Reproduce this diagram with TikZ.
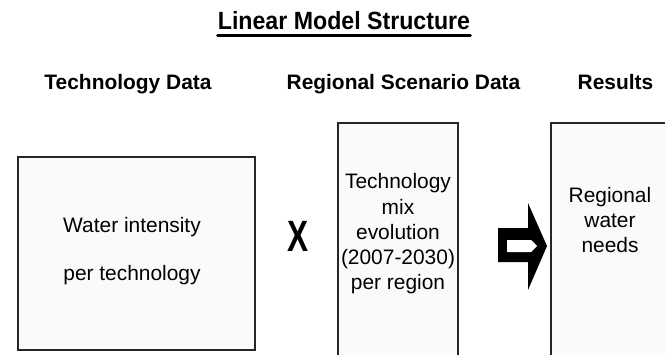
\documentclass[tikz,border=0pt]{standalone}
\usepackage{fontspec}
\usepackage{graphicx}
\setmainfont{Liberation Sans}
\begin{document}
\begin{tikzpicture}[x=1bp,y=-1bp,
  box/.style={draw=black!85,line width=1.8bp,fill=black!2},
  head/.style={anchor=base,inner sep=0pt,font=\fontsize{21}{24}\selectfont\bfseries},
  body/.style={anchor=base,inner sep=0pt,font=\fontsize{21}{25}\selectfont}]
\useasboundingbox (0,0) rectangle (665,354);
\clip (0,0) rectangle (665,354);
% title
\node[anchor=base,inner sep=0pt] (title) at (344,29) {\scalebox{0.93}[1]{\fontsize{25}{28}\selectfont\bfseries Linear Model Structure}};
\draw[line width=3bp,line cap=round] (title.base west |- 0,35) -- (title.base east |- 0,35);
% headings
\node[head] (h1) at (128,89) {Technology Data};
\node[head] (h2) at (403.5,89) {Regional Scenario Data};
\node[head] (h3) at (615.5,89) {Results};
% boxes
\draw[box] (18,157) rectangle (255,350);
\draw[box] (338,123) rectangle (458,380);
\draw[box] (551,123) rectangle (690,380);
% box texts
\node[body] (t1a) at (132,232) {Water intensity};
\node[body] (t1b) at (132,280) {per technology};
\node[body] (t2a) at (398,188) {Technology};
\node[body] (t2b) at (398,214) {mix};
\node[body] (t2c) at (398,239) {evolution};
\node[body] (t2d) at (398,264) {(2007-2030)};
\node[body] (t2e) at (398,289) {per region};
\node[body] (t3a) at (610,202) {Regional};
\node[body] (t3b) at (610,227) {water};
\node[body] (t3c) at (610,252) {needs};
% multiplication sign
\node[inner sep=0pt] (times) at (298,236) {\scalebox{0.72}[1]{\fontsize{44}{44}\selectfont\bfseries X}};
% block arrow
\fill[black] (498,228) -- (528,228) -- (528,203) -- (547,246) -- (528,290) -- (528,262) -- (498,262) -- cycle;
\fill[white] (507,240) -- (531,240) -- (537,246) -- (531,252) -- (507,252) -- cycle;
\end{tikzpicture}
\end{document}
